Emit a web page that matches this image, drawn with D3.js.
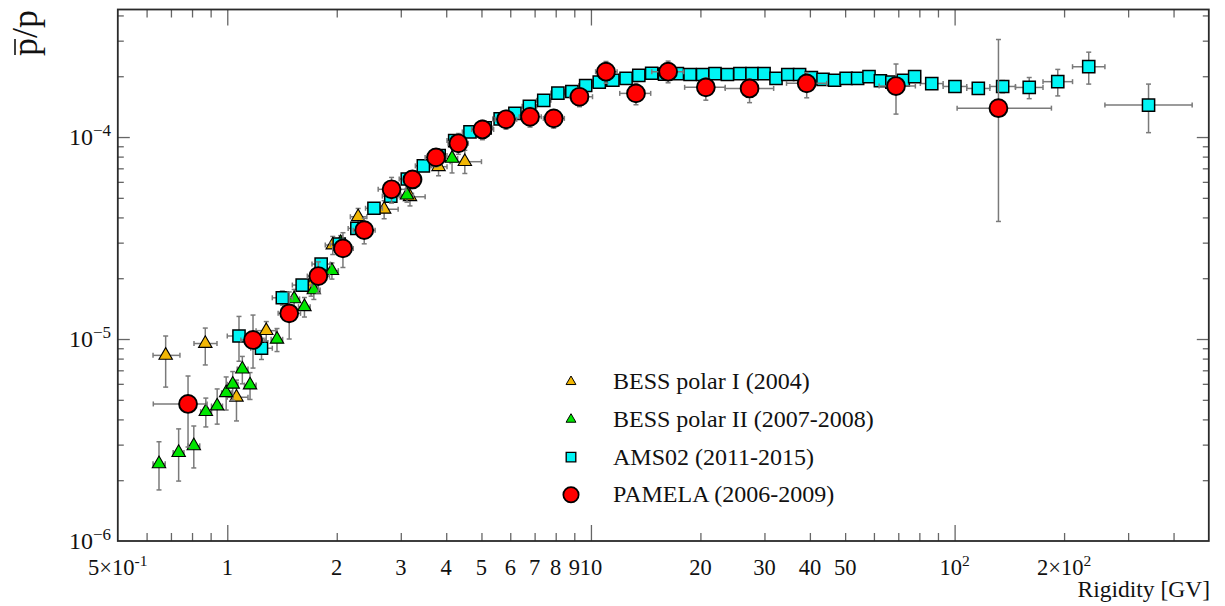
<!DOCTYPE html>
<html><head><meta charset="utf-8">
<script src="https://cdn.jsdelivr.net/npm/d3@7"></script>
<style>
body{margin:0;background:#fff}
svg{display:block}
text{font-family:"Liberation Serif","Times New Roman",serif;fill:#111}
</style>
</head><body>
<svg id="c" width="1225" height="606"></svg>
<script>
// ---------------- DATA (ratios in units of 1e-4) ----------------
// BESS polar I (2004)
const bess1R   = [0.677,0.87,1.06,1.28,1.70,1.95,2.29,2.70,3.18,3.81,4.5];
const bess1V   = [0.083,0.095,0.0515,0.110,0.183,0.292,0.403,0.439,0.506,0.713,0.755];
const bess1ELo = [0.0252,0.0206,0.0122,0.012,0.02,0.03,0.04,0.045,0.05,0.07,0.095];
const bess1EHi = [0.0205,0.0183,0.0111,0.012,0.02,0.03,0.04,0.045,0.05,0.07,0.105];
const bess1XLo = [0.625,0.81,1.0,1.2,1.62,1.86,2.18,2.5,3.0,3.6,4.1];
const bess1XHi = [0.741,0.937,1.14,1.36,1.78,2.05,2.42,2.95,3.5,4.02,5.0];
// BESS polar II (2007-2008)
const bess2R   = [0.649,0.735,0.809,0.873,0.938,0.993,1.035,1.10,1.155,1.37,1.527,1.63,1.73,1.94,2.05,3.12,4.15];
const bess2V   = [0.0241,0.0274,0.0296,0.0437,0.0466,0.0542,0.0597,0.071,0.0592,0.0997,0.158,0.1445,0.175,0.218,0.30,0.516,0.784];
const bess2ELo = [0.0062,0.0076,0.0066,0.007,0.0087,0.0097,0.010,0.011,0.009,0.013,0.018,0.016,0.018,0.020,0.025,0.04,0.12];
const bess2EHi = [0.0069,0.0085,0.0075,0.0073,0.010,0.0107,0.0093,0.011,0.009,0.013,0.018,0.016,0.018,0.020,0.025,0.04,0.12];
const bess2XLo = [0.625,0.71,0.78,0.845,0.905,0.965,1.0,1.065,1.115,1.32,1.47,1.57,1.66,1.86,1.97,3.0,4.0];
const bess2XHi = [0.675,0.76,0.84,0.905,0.97,1.025,1.07,1.14,1.2,1.42,1.58,1.69,1.8,2.02,2.13,3.25,4.3];
// AMS02 (2011-2015): rigidity bin edges and values
const amsEdges = [1.00,1.16,1.33,1.51,1.71,1.92,2.15,2.40,2.67,2.97,3.29,3.64,4.02,4.43,4.88,5.37,5.90,6.47,7.09,7.76,8.48,9.26,10.1,11.0,12.0,13.0,14.1,15.3,16.6,18.0,19.5,21.1,22.8,24.7,26.7,28.8,31.1,33.5,36.1,38.9,41.9,45.1,48.5,52.2,56.1,60.3,64.8,69.7,74.9,80.5,93.0,108,125,147,175,211,259,450];
const amsV     = [0.1035,0.090,0.160,0.185,0.235,0.295,0.353,0.444,0.51,0.62,
                  0.72,0.81,0.96,1.06,1.11,1.23,1.31,1.42,1.52,1.65,
                  1.68,1.80,1.87,1.91,1.95,2.02,2.07,2.05,2.06,2.04,
                  2.04,2.06,2.04,2.06,2.06,2.06,1.95,2.04,2.04,1.97,
                  1.93,1.91,1.95,1.95,1.99,1.90,1.87,1.91,1.99,1.84,
                  1.78,1.74,1.78,1.76,1.88,2.23,1.44];
const amsRelErr= [0.25,0.12,0.08,0.06,0.05,0.05,0.05,0.04,0.04,0.04,
                  0.04,0.04,0.04,0.04,0.04,0.04,0.04,0.04,0.04,0.04,
                  0.04,0.04,0.04,0.04,0.04,0.04,0.04,0.04,0.04,0.04,
                  0.04,0.04,0.04,0.04,0.04,0.04,0.04,0.04,0.04,0.04,
                  0.04,0.04,0.04,0.045,0.045,0.045,0.05,0.05,0.05,0.04,
                  0.04,0.05,0.07,0.12,0.15,0.18,0.27];
// PAMELA (2006-2009)
const pamR   = [0.78,1.177,1.48,1.78,2.08,2.38,2.83,3.23,3.75,4.32,5.03,5.84,6.8,7.9,9.3,11.0,13.3,16.3,20.7,27.3,39.2,69,132];
const pamV   = [0.0477,0.0989,0.134,0.205,0.281,0.346,0.551,0.617,0.793,0.931,1.09,1.224,1.26,1.237,1.583,2.106,1.645,2.106,1.762,1.74,1.844,1.789,1.39];
const pamELo = [0.0185,0.0271,0.034,0.036,0.055,0.05,0.08,0.06,0.08,0.11,0.12,0.13,0.14,0.13,0.17,0.26,0.2,0.25,0.24,0.26,0.28,0.49,1.008];
const pamEHi = [0.0179,0.0325,0.037,0.036,0.055,0.05,0.08,0.06,0.08,0.11,0.12,0.13,0.14,0.13,0.17,0.26,0.2,0.27,0.2,0.2,0.24,0.51,1.65];
const pamXLo = [0.626,1.09,1.38,1.66,1.95,2.22,2.6,3.05,3.5,4.05,4.7,5.45,6.35,7.4,8.76,10.3,12.0,14.7,18.1,23.4,34.5,62,101.6];
const pamXHi = [0.88,1.27,1.59,1.91,2.22,2.55,3.1,3.42,4.0,4.6,5.4,6.25,7.3,8.45,10.1,11.8,14.6,18.0,23.4,31.8,44.5,78,184.6];

// axis ticks & labels
const xMajorTicks = [1,10,100];
const xMinorTicks = [0.6,0.7,0.8,0.9,2,3,4,5,6,7,8,9,20,30,40,50,60,70,80,90,200,300,400];
const xLabelVals  = [0.5,1,2,3,4,5,6,7,8,9,10,20,30,40,50,100,200];
const xLabelText  = ["5×10^-1","1","2","3","4","5","6","7","8","9","10","20","30","40","50","10^2","2×10^2"];
const yMajorTicks = [1e-5,1e-4];
const yMinorTicks = [2e-6,3e-6,4e-6,5e-6,6e-6,7e-6,8e-6,9e-6,2e-5,3e-5,4e-5,5e-5,6e-5,7e-5,8e-5,9e-5,2e-4,3e-4,4e-4];
const yLabelVals  = [1e-6,1e-5,1e-4];
const yLabelText  = ["10^-6","10^-5","10^-4"];
const legendNames = ["BESS polar I (2004)","BESS polar II (2007-2008)","AMS02 (2011-2015)","PAMELA (2006-2009)"];

// ---------------- CHART ----------------
const svg = d3.select("#c");
const L=117.8, R=1208.8, T=9.5, B=541;
const x = d3.scaleLog().domain([0.5,500]).range([L,R]);
const y = d3.scaleLog().domain([1e-6,4.28e-4]).range([B,T]);
const U = 1e-4;

function mk(rs, vs, elo, ehi, xlo, xhi){
  return rs.map((r,i)=>({r, v:vs[i]*U, lo:(vs[i]-elo[i])*U, hi:(vs[i]+ehi[i])*U, xl:xlo[i], xh:xhi[i]}));
}
const bess1 = mk(bess1R,bess1V,bess1ELo,bess1EHi,bess1XLo,bess1XHi);
const bess2 = mk(bess2R,bess2V,bess2ELo,bess2EHi,bess2XLo,bess2XHi);
const ams = amsV.map((v,i)=>{
  const a=amsEdges[i], b=amsEdges[i+1];
  return {r:Math.sqrt(a*b), v:v*U, lo:v*(1-amsRelErr[i])*U, hi:v*(1+amsRelErr[i])*U, xl:a, xh:b};
});
const pam = mk(pamR,pamV,pamELo,pamEHi,pamXLo,pamXHi);

// ticks on four sides
function styleAxis(g){
  g.select(".domain").remove();
  g.selectAll(".tick line").attr("stroke","#666").attr("stroke-width",1.3);
  g.selectAll(".tick text").remove();
}
const ax = svg.append("g");
ax.append("g").attr("transform",`translate(0,${B})`).call(d3.axisBottom(x).tickValues(xMajorTicks).tickSizeInner(-16).tickSizeOuter(0)).call(styleAxis);
ax.append("g").attr("transform",`translate(0,${B})`).call(d3.axisBottom(x).tickValues(xMinorTicks).tickSizeInner(-8).tickSizeOuter(0)).call(styleAxis);
ax.append("g").attr("transform",`translate(0,${T})`).call(d3.axisTop(x).tickValues(xMajorTicks).tickSizeInner(-16).tickSizeOuter(0)).call(styleAxis);
ax.append("g").attr("transform",`translate(0,${T})`).call(d3.axisTop(x).tickValues(xMinorTicks).tickSizeInner(-8).tickSizeOuter(0)).call(styleAxis);
ax.append("g").attr("transform",`translate(${L},0)`).call(d3.axisLeft(y).tickValues(yMajorTicks).tickSizeInner(-12).tickSizeOuter(0)).call(styleAxis);
ax.append("g").attr("transform",`translate(${L},0)`).call(d3.axisLeft(y).tickValues(yMinorTicks).tickSizeInner(-6).tickSizeOuter(0)).call(styleAxis);
ax.append("g").attr("transform",`translate(${R},0)`).call(d3.axisRight(y).tickValues(yMajorTicks).tickSizeInner(-12).tickSizeOuter(0)).call(styleAxis);
ax.append("g").attr("transform",`translate(${R},0)`).call(d3.axisRight(y).tickValues(yMinorTicks).tickSizeInner(-6).tickSizeOuter(0)).call(styleAxis);

// frame
svg.append("rect").attr("x",L).attr("y",T).attr("width",R-L).attr("height",B-T)
  .attr("fill","none").attr("stroke","#2a2a2a").attr("stroke-width",1.8);

// labels with superscripts
function richText(sel, str, base, sup, minus){
  const parts = str.split("^");
  sel.append("tspan").attr("font-size",base).text(parts[0]);
  if(parts.length>1){
    sel.append("tspan").attr("font-size",sup).attr("dy",-9).text(minus ? parts[1].replace("-","\u2212") : parts[1]);
  }
}
xLabelVals.forEach((v,i)=>{
  const t = svg.append("text").attr("x",x(v)).attr("y",575).attr("text-anchor","middle");
  richText(t, xLabelText[i], 22.5, 15.5, false);
});
yLabelVals.forEach((v,i)=>{
  const t = svg.append("text").attr("x",111).attr("y",y(v)+8).attr("text-anchor","end");
  richText(t, yLabelText[i], 24, 17, true);
});

// axis titles
svg.append("text").attr("x",1210).attr("y",597).attr("text-anchor","end").attr("font-size",23.5).text("Rigidity [GV]");
const ytG = svg.append("g").attr("transform","translate(37,56) rotate(-90)");
const yt = ytG.append("text").attr("x",0).attr("y",0).attr("text-anchor","start").attr("font-size",36);
yt.append("tspan").text("p");
yt.append("tspan").text("/p");
const pw = yt.node().getSubStringLength(0,1);
ytG.append("line").attr("x1",1).attr("x2",pw-1).attr("y1",-22).attr("y2",-22)
  .attr("stroke","#111").attr("stroke-width",1.6);

// series drawing
const errCol="#7a7a7a", cap=2.5;
function drawSeries(data, symbolType, size, fill, sw){
  const g = svg.append("g");
  const e = g.append("g").attr("stroke",errCol).attr("stroke-width",1.5).attr("fill","none");
  data.forEach(d=>{
    const cx=x(d.r), cy=y(d.v), y1=y(d.lo), y2=y(d.hi), x1=x(d.xl), x2=x(d.xh);
    e.append("line").attr("x1",cx).attr("x2",cx).attr("y1",y1).attr("y2",y2);
    e.append("line").attr("x1",cx-cap).attr("x2",cx+cap).attr("y1",y1).attr("y2",y1);
    e.append("line").attr("x1",cx-cap).attr("x2",cx+cap).attr("y1",y2).attr("y2",y2);
    e.append("line").attr("x1",x1).attr("x2",x2).attr("y1",cy).attr("y2",cy);
    e.append("line").attr("x1",x1).attr("x2",x1).attr("y1",cy-cap).attr("y2",cy+cap);
    e.append("line").attr("x1",x2).attr("x2",x2).attr("y1",cy-cap).attr("y2",cy+cap);
  });
  g.selectAll("path.m").data(data).join("path").attr("class","m")
    .attr("d",d3.symbol(symbolType,size))
    .attr("transform",d=>`translate(${x(d.r)},${y(d.v)})`)
    .attr("fill",fill).attr("stroke","#000").attr("stroke-width",sw);
}
const styles = [
  {type:d3.symbolTriangle, size:78, fill:"#f2b705", sw:1.1, lsize:42},
  {type:d3.symbolTriangle, size:78, fill:"#00e600", sw:1.1, lsize:42},
  {type:d3.symbolSquare,   size:148, fill:"#00f5f5", sw:1.5, lsize:92},
  {type:d3.symbolCircle,   size:250, fill:"#ff0000", sw:1.9, lsize:185}
];
[bess1,bess2,ams,pam].forEach((d,i)=>drawSeries(d, styles[i].type, styles[i].size, styles[i].fill, styles[i].sw));

// legend
const lg = svg.append("g");
legendNames.forEach((name,i)=>{
  const ly = 381.7 + i*37.7;
  lg.append("path").attr("d",d3.symbol(styles[i].type,styles[i].lsize))
    .attr("transform",`translate(571,${ly})`).attr("fill",styles[i].fill)
    .attr("stroke","#000").attr("stroke-width",styles[i].sw*0.9);
  lg.append("text").attr("x",613).attr("y",ly+7.5).attr("font-size",24).text(name);
});
</script>
</body></html>
